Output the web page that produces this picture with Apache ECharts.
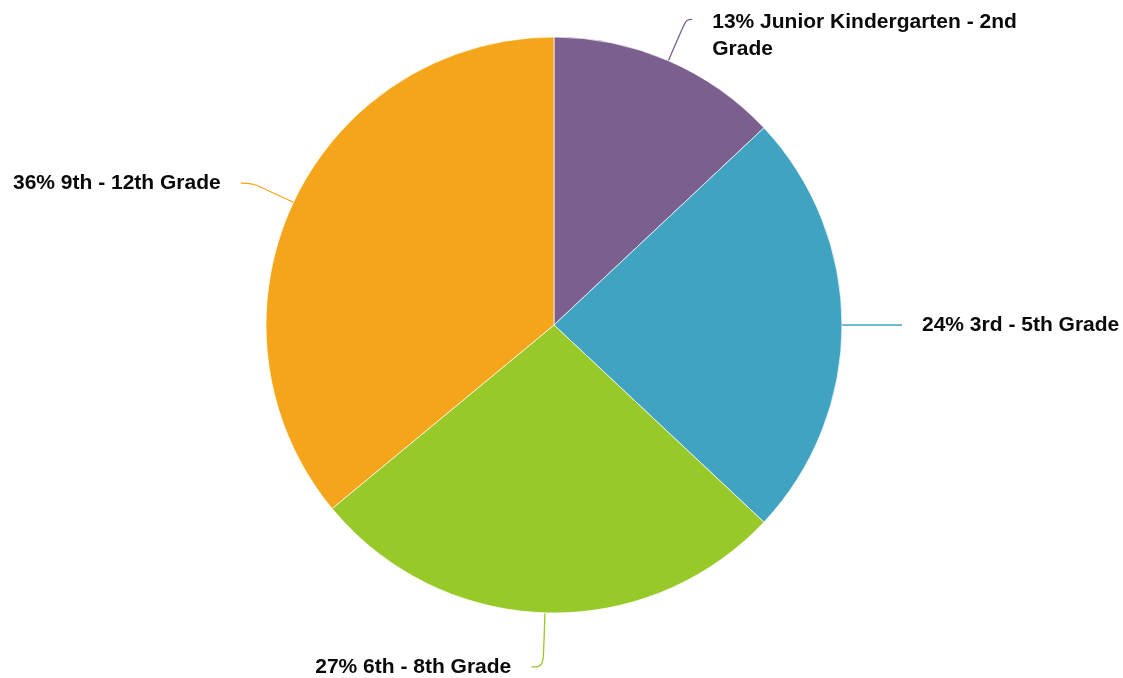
<!DOCTYPE html>
<html>
<head>
<meta charset="utf-8">
<script src="https://cdn.jsdelivr.net/npm/echarts@6/dist/echarts.min.js"></script>
<style>
html,body{margin:0;padding:0;background:#fff;}
#chart{width:1123px;height:678px;}
</style>
</head>
<body>
<div id="chart"></div>
<script>
const categories = ['Junior Kindergarten - 2nd Grade', '3rd - 5th Grade', '6th - 8th Grade', '9th - 12th Grade'];
const values = [13, 24, 27, 36];
const colors = ['#7B5F8E', '#41A3C2', '#97C928', '#F5A51A'];
const lineLengths = [45, 40, 54, 45];
const lineLengths2 = [6, 20, 12, 12];

const LABEL_FONT = 'bold 21px "Liberation Sans", Arial, sans-serif';
const MAX_LABEL_WIDTH = 310;
const measureCtx = document.createElement('canvas').getContext('2d');
measureCtx.font = LABEL_FONT;
function wrapText(text) {
  const words = text.split(' ');
  const lines = [];
  let cur = '';
  words.forEach(w => {
    const test = cur ? cur + ' ' + w : w;
    if (cur && measureCtx.measureText(test).width > MAX_LABEL_WIDTH) {
      lines.push(cur);
      cur = w;
    } else {
      cur = test;
    }
  });
  if (cur) lines.push(cur);
  return lines.join('\n');
}

const chart = echarts.init(document.getElementById('chart'), null, {renderer: 'canvas'});
chart.setOption({
  animation: false,
  color: colors,
  series: [{
    type: 'pie',
    center: [554, 325],
    radius: 288,
    startAngle: 90,
    clockwise: true,
    avoidLabelOverlap: false,
    itemStyle: {borderColor: '#fff', borderWidth: 0.7},
    label: {
      show: true,
      formatter: function (p) { return wrapText(p.value + '% ' + p.name); },
      fontFamily: '"Liberation Sans", Arial, sans-serif',
      fontWeight: 'bold',
      fontSize: 21,
      color: '#0a0a0a',
      lineHeight: 27,
      distanceToLabelLine: 20
    },
    labelLine: {
      show: true,
      smooth: 0.4,
      lineStyle: {width: 1.3}
    },
    labelLayout: function (p) {
      return p.dataIndex === 0 ? {dy: 16} : {};
    },
    data: categories.map((c, i) => ({
      name: c,
      value: values[i],
      labelLine: {length: lineLengths[i], length2: lineLengths2[i]}
    }))
  }]
});
</script>
</body>
</html>
